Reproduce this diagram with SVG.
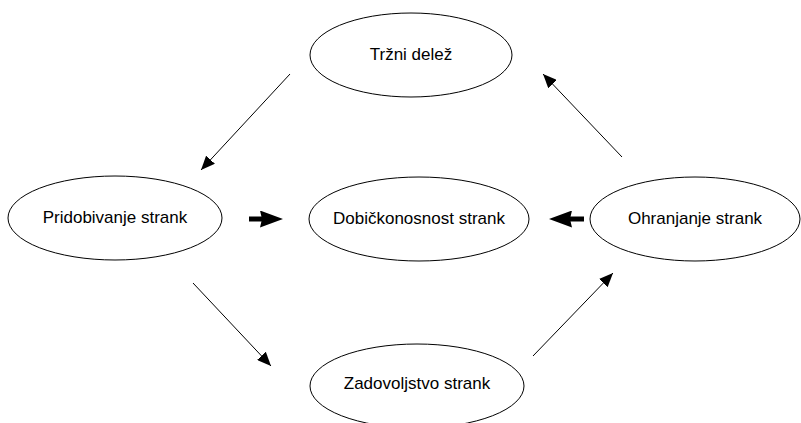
<svg xmlns="http://www.w3.org/2000/svg" width="801" height="423" viewBox="0 0 801 423">
<style>
.n ellipse{fill:#fff;stroke:#000;stroke-width:1}
.n text{font-family:"Liberation Sans",Arial,sans-serif;font-size:17px;fill:#000;text-anchor:middle;dominant-baseline:central}
.c line{stroke:#000;stroke-width:1}
.c line.t{stroke-width:5}
</style>
<defs>
<marker id="a" viewBox="0 0 14 12" refX="14" refY="6" markerWidth="14" markerHeight="12" markerUnits="userSpaceOnUse" orient="auto"><path d="M0,0L14,6L0,12z" fill="#000"/></marker>
<marker id="b" viewBox="0 0 23 17" refX="5" refY="8.5" markerWidth="23" markerHeight="17" markerUnits="userSpaceOnUse" orient="auto"><path d="M0,0L23,8.5L0,17L2,8.5z" fill="#000"/></marker>
</defs>
<rect width="801" height="423" fill="#fff"/>
<g class="n" id="trzni"><ellipse cx="411" cy="55" rx="101" ry="42"/><text x="411" y="54">Tržni delež</text></g>
<g class="n" id="pridobivanje"><ellipse cx="115" cy="218" rx="107" ry="42"/><text x="115" y="217">Pridobivanje strank</text></g>
<g class="n" id="dobickonosnost"><ellipse cx="419" cy="219" rx="110" ry="42"/><text x="419" y="218">Dobičkonosnost strank</text></g>
<g class="n" id="ohranjanje"><ellipse cx="695" cy="219" rx="105" ry="42"/><text x="695" y="218">Ohranjanje strank</text></g>
<g class="n" id="zadovoljstvo"><ellipse cx="417" cy="386" rx="107" ry="42"/><text x="417" y="383">Zadovoljstvo strank</text></g>
<g class="c" id="connectors">
<line x1="290" y1="74" x2="201" y2="170" marker-end="url(#a)"/>
<line x1="622" y1="157" x2="543" y2="74" marker-end="url(#a)"/>
<line x1="193" y1="283" x2="271" y2="366" marker-end="url(#a)"/>
<line x1="533" y1="356" x2="613" y2="273" marker-end="url(#a)"/>
<line class="t" x1="249" y1="219" x2="265" y2="219" marker-end="url(#b)"/>
<line class="t" x1="584" y1="219" x2="567" y2="219" marker-end="url(#b)"/>
</g>
</svg>
